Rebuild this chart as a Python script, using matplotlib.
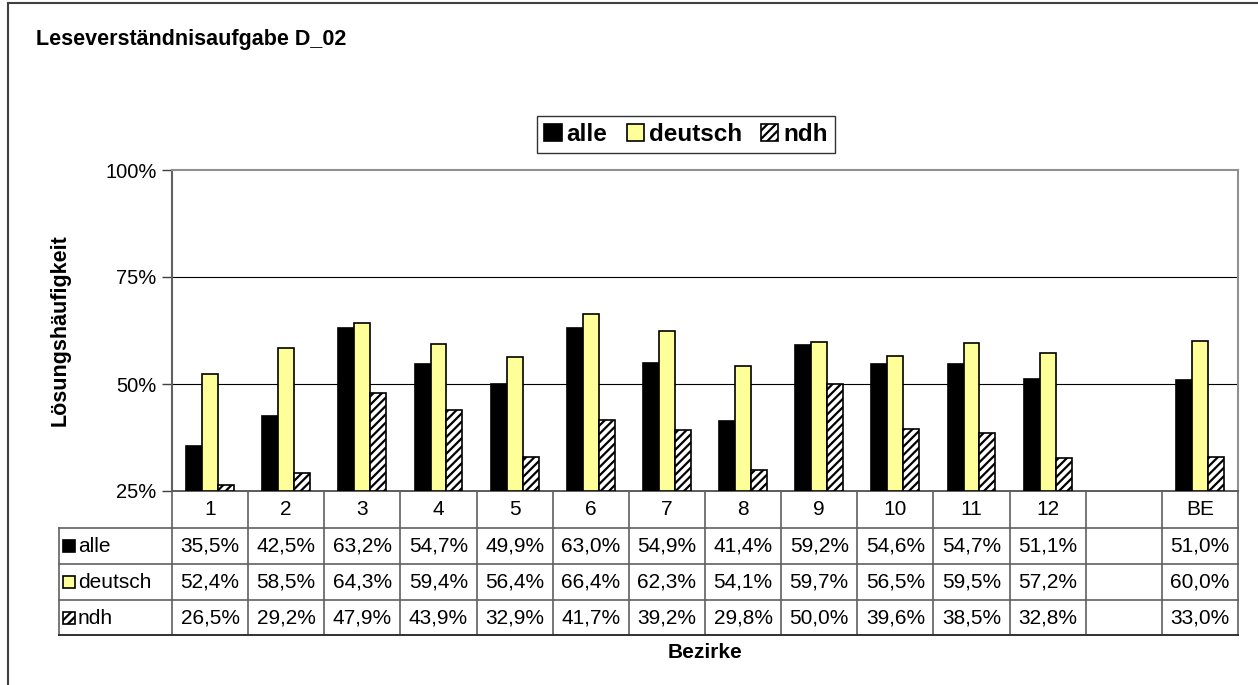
import matplotlib
matplotlib.use("Agg")
import matplotlib.pyplot as plt
import numpy as np
from matplotlib.patches import Rectangle, Patch
from matplotlib.lines import Line2D

plt.rcParams['font.family'] = ['Liberation Sans', 'DejaVu Sans']
plt.rcParams['hatch.linewidth'] = 1.6

title = "Leseverständnisaufgabe D_02"
categories = ['1', '2', '3', '4', '5', '6', '7', '8', '9', '10', '11', '12', '', 'BE']
series_names = ['alle', 'deutsch', 'ndh']
alle = [35.5, 42.5, 63.2, 54.7, 49.9, 63.0, 54.9, 41.4, 59.2, 54.6, 54.7, 51.1, np.nan, 51.0]
deutsch = [52.4, 58.5, 64.3, 59.4, 56.4, 66.4, 62.3, 54.1, 59.7, 56.5, 59.5, 57.2, np.nan, 60.0]
ndh = [26.5, 29.2, 47.9, 43.9, 32.9, 41.7, 39.2, 29.8, 50.0, 39.6, 38.5, 32.8, np.nan, 33.0]
yticks = [25, 50, 75, 100]
ylabel = "Lösungshäufigkeit"
xlabel = "Bezirke"

W, H = 1258, 685
fig = plt.figure(figsize=(W / 100, H / 100), dpi=100)

L, R, T, B = 172, 1238, 170, 491
ax = fig.add_axes([L / W, 1 - B / H, (R - L) / W, (B - T) / H])
x = np.arange(len(categories))
bw = 0.21
styles = [dict(color='black', edgecolor='black'),
          dict(color='#FFFF99', edgecolor='black'),
          dict(color='white', edgecolor='black', hatch='////')]
data = [alle, deutsch, ndh]
base = 25
for i, (vals, st) in enumerate(zip(data, styles)):
    v = np.array(vals, dtype=float)
    ax.bar(x + (i - 1) * bw, v - base, bw, bottom=base, linewidth=1.2, zorder=3, **st)

ax.set_xlim(-0.5, len(categories) - 0.5)
ax.set_ylim(25, 100)
ax.set_yticks(yticks)
ax.set_yticklabels([f"{t}%" for t in yticks], fontsize=14.5)
ax.set_xticks([])
ax.tick_params(axis='y', direction='out', length=7, width=1, color='#404040', pad=4)
for t in [50, 75]:
    ax.axhline(t, color='black', linewidth=0.8, zorder=1)
ax.spines['left'].set_color('#606060')
ax.spines['left'].set_linewidth(1.5)
ax.spines['top'].set_color('#909090')
ax.spines['top'].set_linewidth(1.5)
ax.spines['right'].set_color('#909090')
ax.spines['right'].set_linewidth(1.5)
ax.spines['bottom'].set_color('#404040')
ax.spines['bottom'].set_linewidth(1.2)

# data table
TL, TB = 59, 635
tab = fig.add_axes([TL / W, 1 - TB / H, (R - TL) / W, (TB - B) / H])
cw = (R - L) / len(categories)
xleft = -0.5 - (L - TL) / cw
tab.set_xlim(xleft, len(categories) - 0.5)
tab.set_ylim(TB - B, 0)
tab.axis('off')
rows_y = [0, 37, 73, 109, 144]
lc = '#606060'
for k in range(len(categories) + 1):
    tab.plot([k - 0.5, k - 0.5], [0, 144], color=lc, lw=1.2, clip_on=False)
tab.plot([xleft, xleft], [37, 144], color=lc, lw=1.2, clip_on=False)
for yy in rows_y[1:4]:
    tab.plot([xleft, len(categories) - 0.5], [yy, yy], color=lc, lw=1.2, clip_on=False)
tab.plot([xleft, len(categories) - 0.5], [144, 144], color='#303030', lw=1.4, clip_on=False)

fs = 15
for k, c in enumerate(categories):
    tab.text(k, 18.5, c, ha='center', va='center', fontsize=fs)
for r, vals in enumerate(data):
    yc = (rows_y[r + 1] + rows_y[r + 2]) / 2
    for k, v in enumerate(vals):
        if not np.isnan(v):
            tab.text(k, yc, f"{v:.1f}%".replace('.', ','), ha='center', va='center', fontsize=fs)
    # legend key
    px = 1 / cw
    tab.add_patch(Rectangle((xleft + 4 * px, yc - 6), 12 * px, 12,
                            facecolor=styles[r]['color'], edgecolor='black',
                            hatch=styles[r].get('hatch'), lw=1.2, clip_on=False))
    tab.text(xleft + 19 * px, yc + 1, series_names[r], ha='left', va='center', fontsize=fs)

# legend
handles = [Patch(facecolor=st['color'], edgecolor='black', hatch=st.get('hatch'), lw=1.2)
           for st in styles]
leg = fig.legend(handles, series_names, loc='center', bbox_to_anchor=(686 / W, 1 - 134.5 / H),
                 ncol=3, frameon=True, fancybox=False, edgecolor='black',
                 prop={'weight': 'bold', 'size': 17.5}, handlelength=0.7, handleheight=0.7,
                 handletextpad=0.2, columnspacing=0.8, borderpad=0.3, borderaxespad=0)
leg.get_frame().set_linewidth(1.0)

fig.text(36 / W, 1 - 40 / H, title, ha='left', va='center', fontsize=15.5, fontweight='bold')
fig.text(60 / W, 1 - 330 / H, ylabel, rotation=90, ha='center', va='center', fontsize=15.5, fontweight='bold')
fig.text((L + R) / 2 / W, 1 - 653 / H, xlabel, ha='center', va='center', fontsize=15, fontweight='bold')

# outer frame
fig.add_artist(Line2D([8 / W, 8 / W], [0, 1 - 3 / H], color='#404040', lw=1.5, transform=fig.transFigure))
fig.add_artist(Line2D([8 / W, 1], [1 - 3 / H, 1 - 3 / H], color='#404040', lw=1.5, transform=fig.transFigure))

fig.savefig('out.png', dpi=100)
